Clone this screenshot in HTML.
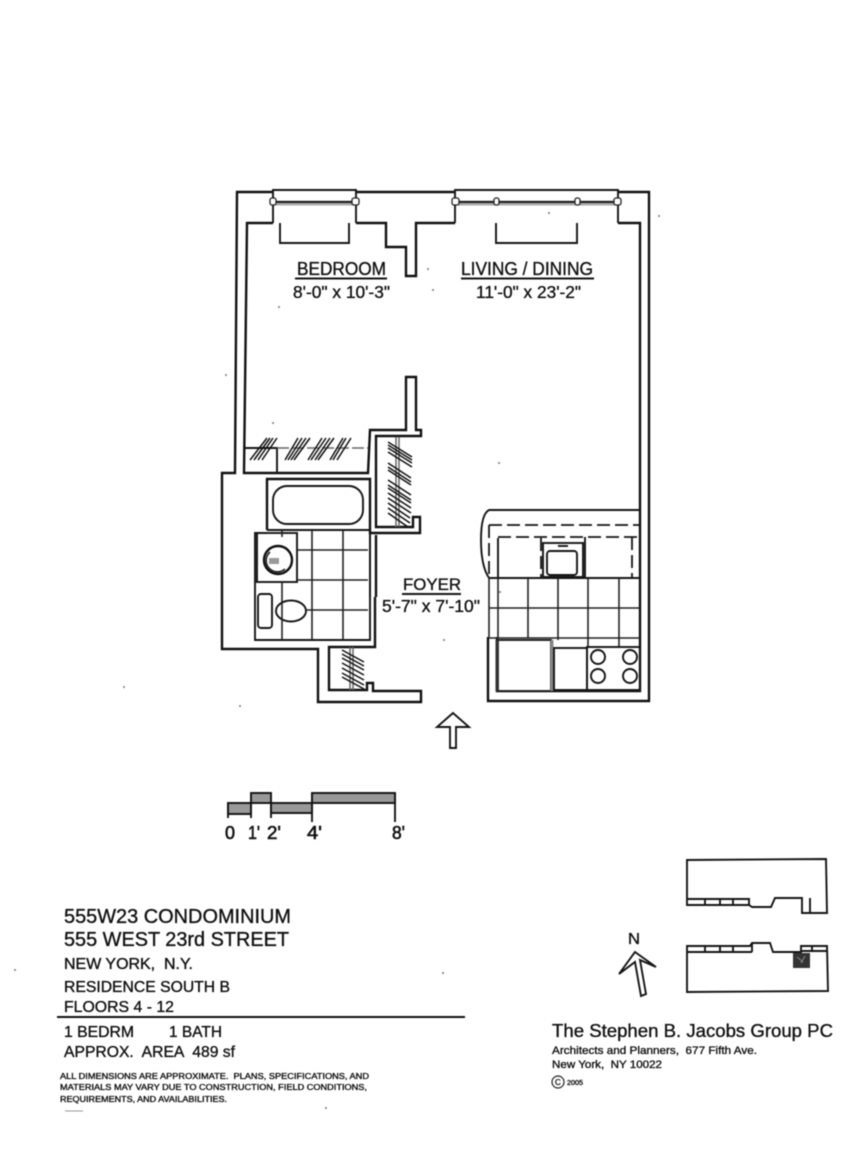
<!DOCTYPE html>
<html>
<head>
<meta charset="utf-8">
<title>Floor plan</title>
<style>
html,body{margin:0;padding:0;background:#fff;width:864px;height:1152px;overflow:hidden}
svg{display:block;filter:blur(.4px)}
text{font-family:"Liberation Sans",sans-serif;fill:#111;stroke:#111;stroke-width:.35}
.w{fill:none;stroke:#111;stroke-width:2.4}
.m{fill:none;stroke:#151515;stroke-width:1.9}
.t{fill:none;stroke:#222;stroke-width:1.6}
.g{fill:none;stroke:#666;stroke-width:1.5}
.d{fill:none;stroke:#151515;stroke-width:1.8;stroke-dasharray:13 5}
.h{fill:none;stroke:#111;stroke-width:1.5}
.s{fill:#999;stroke:#111;stroke-width:1.9}
.k{fill:#fff;stroke:#222;stroke-width:1.3}
</style>
</head>
<body>
<svg width="864" height="1152" viewBox="0 0 864 1152" xmlns="http://www.w3.org/2000/svg">
<rect width="864" height="1152" fill="#fff"/>

<!-- outer walls -->
<path class="w" d="M273,192 H237 L235,473 H222 V649 H318 V702 H421 V691 H373 V683 H367 V690 H329 V647 H375 V597 M356,192 H455 M618,192 H649 V701 H488 V637"/>
<!-- inner walls -->
<path class="w" d="M273,223 H247 L244,473 H368 L370,430 H406 V377 H416 V430 H421 V436 H376 V527 H413 V517 H420 V533 H370 V479 H267 V530"/>
<path class="w" d="M356,223 H386 V247 H406 V276 H416 V223 H455 M618,223 H640 V691 H497 V637"/>
<path class="w" d="M376,535 V597"/>

<!-- windows -->
<path class="m" d="M273,223 V190 H356 V223 M455,223 V190 H618 V223"/>
<path class="m" d="M280,223 V243 H349 V223 M496,223 V243 H577 V223"/>
<path d="M275,203 H353 M457,203 H615" fill="none" stroke="#aaa" stroke-width="5"/>
<path d="M275,202 H353 M457,202 H615" fill="none" stroke="#111" stroke-width="1.800"/>
<g class="k">
<rect x="270" y="198" width="6" height="7" rx="2"/><rect x="352" y="198" width="7" height="7" rx="2"/>
<rect x="452" y="198" width="7" height="7" rx="2"/><rect x="494" y="198" width="5" height="7" rx="2"/>
<rect x="575" y="198" width="5" height="7" rx="2"/><rect x="614" y="198" width="7" height="7" rx="2"/>
</g>

<!-- bedroom closet -->
<path class="m" d="M245,448 H277 V473"/>
<path d="M277,448 H368" fill="none" stroke="#666" stroke-width="1.500" stroke-dasharray="12 3"/>
<path class="h" d="M250,460 L267,438 M254,460 L270,438 M258,460 L273,438 M262,460 L277,438
M285,460 L298,438 M288,460 L302,438 M291,460 L306,438 M294,460 L310,438
M308,460 L322,438 M311,460 L326,438 M315,460 L330,438 M318,460 L334,438
M330,460 L343,438 M333,460 L346,438 M337,460 L351,438"/>

<!-- vertical closet -->
<path class="g" d="M396,437 V527 M399,437 V527"/>
<path class="h" d="M388,442 L412,457 M388,445 L412,460 M388,448 L412,463 M388,452 L412,467
M388,463 L411,478 M388,467 L411,482 M388,470 L411,485
M388,480 L411,495 M388,485 L411,500 M388,488 L411,503 M388,493 L411,508 M388,498 L411,513
M388,503 L410,518 M388,508 L410,523 M388,513 L408,527"/>

<!-- lower closet -->
<path class="g" d="M350,647 V690 M353,647 V690"/>
<path class="h" d="M342,650 L364,662 M342,654 L364,666 M342,658 L364,670 M342,663 L364,675 M342,668 L364,680 M342,673 L364,685 M342,677 L364,689"/>

<!-- bathroom -->
<path class="m" d="M267,530 H370 V640 H255 V533 H267"/>
<path class="m" d="M370,535 V597"/>
<rect class="m" x="273" y="486" width="90" height="38" rx="14" ry="14"/>
<rect class="m" x="257" y="533" width="40" height="49"/>
<circle class="w" cx="278" cy="560" r="14"/>
<path class="t" d="M270,552 a11,11 0 1 0 15,17"/>
<path d="M269,558 h10 v6 h-10z" fill="#999"/>
<rect class="m" x="258" y="594" width="14" height="34" rx="3"/>
<ellipse class="m" cx="291" cy="611" rx="15" ry="10.500"/>
<path class="t" d="M282,530 V537 M282,582 V640 M312,530 V640 M343,530 V640 M297,550 H368 M297,580 H368 M306,610 H368"/>

<!-- kitchen -->
<path class="m" d="M640,510 H489 Q481,514 481,540 Q481,566 489,578"/>
<path class="d" d="M489,525 H640 M489,525 V578 M498,537 H640"/>
<path class="m" d="M498,578 H541 M498,538 V578"/>
<path class="d" d="M541,538 V578 M632,537 V578"/>
<rect class="m" x="543" y="543" width="40" height="34"/>
<rect class="m" x="547" y="551" width="30" height="24" rx="3"/>
<path class="m" d="M558,546 H568"/>
<path class="m" d="M585,537 V578 H640 M489,578 H585"/>
<path class="t" d="M489,578 V637 M498,578 V638 M528,578 V638 M558,578 V640 M588,578 V647 M619,578 V647 M489,608 H640 M489,638 H640"/>
<rect x="498" y="640" width="53" height="51" fill="#fff" stroke="#151515" stroke-width="1.800"/>
<path d="M497,640 V691" stroke="#333" stroke-width="3" fill="none"/>
<path d="M552,640 V691" stroke="#888" stroke-width="3" fill="none"/>
<rect class="m" x="554" y="648" width="33" height="42"/>
<rect class="m" x="587" y="647" width="53" height="43"/>
<circle class="m" cx="598" cy="657" r="7"/><circle class="m" cx="630" cy="657" r="7"/>
<circle class="m" cx="598" cy="676" r="7"/><circle class="m" cx="630" cy="676" r="7"/>

<!-- entry arrow -->
<path class="m" d="M453,713 L437,727 H450 V748 H456 V727 H469 Z"/>

<!-- room labels -->
<text x="297" y="275" font-size="18" textLength="89" lengthAdjust="spacingAndGlyphs">BEDROOM</text>
<path class="m" d="M295,278.500 H387 M461,278.500 H594 M402,594 H461"/>
<text x="293" y="298" font-size="17.500" textLength="97" lengthAdjust="spacingAndGlyphs">8'-0" x 10'-3"</text>
<text x="461" y="275" font-size="18" textLength="132" lengthAdjust="spacingAndGlyphs">LIVING / DINING</text>
<text x="476" y="298" font-size="17.500" textLength="105" lengthAdjust="spacingAndGlyphs">11'-0" x 23'-2"</text>
<text x="403" y="590" font-size="17" textLength="58" lengthAdjust="spacingAndGlyphs">FOYER</text>
<text x="382" y="612" font-size="17.500" textLength="98" lengthAdjust="spacingAndGlyphs">5'-7" x 7'-10"</text>

<!-- scale bar -->
<rect class="s" x="228" y="803" width="23" height="11"/>
<rect class="s" x="251" y="793" width="20" height="10"/>
<rect class="s" x="271" y="803" width="41" height="10"/>
<rect class="s" x="312" y="793" width="83" height="10"/>
<path class="m" d="M228,803 V818 M251,803 V818 M271,803 V818 M312,793 V822 M395,793 V822"/>
<g style="stroke-width:.6">
<text x="225" y="839" font-size="18" textLength="10" lengthAdjust="spacingAndGlyphs" style="stroke-width:.6">0</text>
<text x="248" y="839" font-size="18" textLength="12" lengthAdjust="spacingAndGlyphs" style="stroke-width:.6">1'</text>
<text x="267" y="839" font-size="18" textLength="14" lengthAdjust="spacingAndGlyphs" style="stroke-width:.6">2'</text>
<text x="307" y="839" font-size="18" textLength="15" lengthAdjust="spacingAndGlyphs" style="stroke-width:.6">4'</text>
<text x="392" y="839" font-size="18" textLength="13" lengthAdjust="spacingAndGlyphs" style="stroke-width:.6">8'</text>
</g>

<!-- title block -->
<text x="64" y="923" font-size="20" textLength="227" lengthAdjust="spacingAndGlyphs">555W23 CONDOMINIUM</text>
<text x="64" y="946" font-size="20" textLength="225" lengthAdjust="spacingAndGlyphs">555 WEST 23rd STREET</text>
<text x="64" y="969" font-size="15.500" textLength="129" lengthAdjust="spacingAndGlyphs" xml:space="preserve">NEW YORK,  N.Y.</text>
<text x="64" y="992" font-size="15.500" textLength="166" lengthAdjust="spacingAndGlyphs">RESIDENCE SOUTH B</text>
<text x="64" y="1012" font-size="15.500" textLength="110" lengthAdjust="spacingAndGlyphs">FLOORS 4 - 12</text>
<path d="M57,1017 H465" stroke="#111" stroke-width="2" fill="none"/>
<text x="64" y="1037" font-size="15.500" textLength="70" lengthAdjust="spacingAndGlyphs">1 BEDRM</text>
<text x="169" y="1037" font-size="15.500" textLength="53" lengthAdjust="spacingAndGlyphs">1 BATH</text>
<text x="64" y="1057" font-size="16" textLength="171" lengthAdjust="spacingAndGlyphs" xml:space="preserve">APPROX.  AREA  489 sf</text>
<text x="60" y="1079" font-size="8" textLength="309" lengthAdjust="spacingAndGlyphs" xml:space="preserve">ALL DIMENSIONS ARE APPROXIMATE.  PLANS, SPECIFICATIONS, AND</text>
<text x="60" y="1090" font-size="8" textLength="307" lengthAdjust="spacingAndGlyphs">MATERIALS MAY VARY DUE TO CONSTRUCTION, FIELD CONDITIONS,</text>
<text x="60" y="1102" font-size="8" textLength="167" lengthAdjust="spacingAndGlyphs">REQUIREMENTS, AND AVAILABILITIES.</text>
<path d="M65,1111 H83" stroke="#999" stroke-width="1" fill="none"/>

<!-- key plans -->
<path class="m" d="M687,860 L826,859 L827,913 H802 V898 H775 L771,907 H752 L749,905 H687 Z"/>
<path class="m" d="M687,899 H749 V905 M705,899 V905 M720,899 V905 M733,899 V905 M810,898 V913"/>
<path class="m" d="M687,946 H750 L752,943 H770 L773,952 H801 V946 H827 L828,991 L687,992 Z"/>
<path class="m" d="M687,952 H752 M705,946 V952 M720,946 V952 M733,946 V952 M752,943 V952 M801,951 H827 M812,946 V951"/>
<rect x="793" y="953" width="17" height="15" fill="#333"/>
<path d="M797,957 l6,5 M805,956 l-4,7" stroke="#888" stroke-width="1" fill="none"/>

<!-- north arrow -->
<text x="628" y="944" font-size="16" textLength="12" lengthAdjust="spacingAndGlyphs">N</text>
<path class="m" d="M635,952 L656,967 L640,960 L646,994 L641,996 L635,962 L619,974 Z"/>

<!-- firm -->
<text x="552" y="1037" font-size="18" textLength="281" lengthAdjust="spacingAndGlyphs">The Stephen B. Jacobs Group PC</text>
<text x="552" y="1054" font-size="11" textLength="205" lengthAdjust="spacingAndGlyphs" xml:space="preserve">Architects and Planners,  677 Fifth Ave.</text>
<text x="552" y="1068" font-size="11" textLength="110" lengthAdjust="spacingAndGlyphs" xml:space="preserve">New York,  NY 10022</text>
<circle cx="558" cy="1082" r="6" fill="none" stroke="#222" stroke-width="1.200"/>
<text x="555" y="1085" font-size="8">C</text>
<text x="567" y="1085" font-size="7" textLength="16" lengthAdjust="spacingAndGlyphs">2005</text>

<!-- specks -->
<g fill="#777">
<circle cx="433" cy="290" r="1"/><circle cx="428" cy="269" r="1"/><circle cx="500" cy="592" r="1"/>
<circle cx="549" cy="213" r="1"/><circle cx="279" cy="307" r="1"/><circle cx="499" cy="463" r="1"/>
<circle cx="273" cy="423" r="1"/><circle cx="659" cy="216" r="1"/><circle cx="226" cy="375" r="1"/>
<circle cx="444" cy="640" r="1"/><circle cx="15" cy="970" r="1"/><circle cx="443" cy="973" r="1"/>
<circle cx="124" cy="687" r="1"/><circle cx="326" cy="1108" r="1"/><circle cx="240" cy="706" r="1"/>
</g>
</svg>
</body>
</html>
